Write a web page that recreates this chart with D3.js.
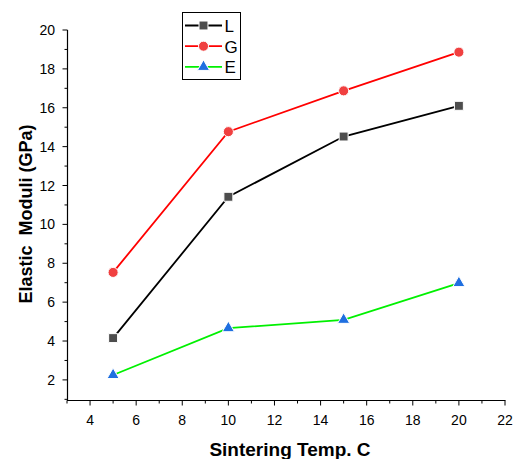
<!DOCTYPE html>
<html>
<head>
<meta charset="utf-8">
<script src="https://cdn.jsdelivr.net/npm/d3@7"></script>
<style>
body { margin: 0; background: #fff; }
text { font-family: Arial, "Liberation Sans", sans-serif; }
</style>
</head>
<body>
<svg id="chart" width="522" height="459"></svg>
<script>
// data
let temps = [5, 10, 15, 20];
let valL = [4.15, 11.42, 14.52, 16.1];
let valG = [7.53, 14.77, 16.87, 18.86];
let valE = [2.25, 4.66, 5.09, 6.98];
let xTicks = [4, 6, 8, 10, 12, 14, 16, 18, 20, 22];
let yTicks = [2, 4, 6, 8, 10, 12, 14, 16, 18, 20];

let series = [
    {name: "L", values: valL, line: "#000000", fill: "#4d4d4d", shape: d3.symbolSquare, size: 80},
    {name: "G", values: valG, line: "#ff0000", fill: "#f04040", shape: d3.symbolCircle, size: 80},
    {name: "E", values: valE, line: "#00f000", fill: "#1f6fe0", shape: d3.symbolTriangle, size: 64}
];

let svg = d3.select("#chart");

let xMap = d3.scaleLinear().domain([3, 22]).range([67, 505]);
let yMap = d3.scaleLinear().domain([0.94, 20]).range([400.5, 30]);

// x axis
let xAxis = svg.append("g").attr("transform", "translate(0,400.5)");
xAxis.append("line").attr("x1", 67).attr("x2", 505.5).attr("stroke", "#000").attr("stroke-width", 1.2);
xAxis.selectAll(".minor").data(d3.range(3, 23, 1).filter(v => v % 2 == 1))
    .enter().append("line")
    .attr("x1", d => xMap(d)).attr("x2", d => xMap(d))
    .attr("y1", 0).attr("y2", 3).attr("stroke", "#000");
xAxis.selectAll(".major").data(xTicks)
    .enter().append("line")
    .attr("x1", d => xMap(d)).attr("x2", d => xMap(d))
    .attr("y1", 0).attr("y2", 5).attr("stroke", "#000");
xAxis.selectAll("text").data(xTicks)
    .enter().append("text")
    .attr("x", d => xMap(d)).attr("y", 24.5)
    .attr("text-anchor", "middle").attr("font-size", 14)
    .text(d => d);

// y axis
let yAxis = svg.append("g").attr("transform", "translate(67.5,0)");
yAxis.append("line").attr("y1", 30).attr("y2", 401).attr("stroke", "#000").attr("stroke-width", 1.2);
yAxis.selectAll(".minor").data(d3.range(1, 20, 2))
    .enter().append("line")
    .attr("y1", d => yMap(d)).attr("y2", d => yMap(d))
    .attr("x1", 0).attr("x2", -3).attr("stroke", "#000");
yAxis.selectAll(".major").data(yTicks)
    .enter().append("line")
    .attr("y1", d => yMap(d)).attr("y2", d => yMap(d))
    .attr("x1", 0).attr("x2", -5).attr("stroke", "#000");
yAxis.selectAll("text").data(yTicks)
    .enter().append("text")
    .attr("x", -12.5).attr("y", d => yMap(d) + 5)
    .attr("text-anchor", "end").attr("font-size", 14)
    .text(d => d);

// axis titles
svg.append("text")
    .attr("x", 290).attr("y", 456)
    .attr("text-anchor", "middle").attr("font-size", 19).attr("font-weight", "bold")
    .text("Sintering Temp. C");
svg.append("text")
    .attr("transform", "translate(32,214) rotate(-90)")
    .attr("text-anchor", "middle").attr("font-size", 18).attr("font-weight", "bold")
    .style("white-space", "pre")
    .text("Elastic  Moduli (GPa)");

// lines + markers
let lineGen = d3.line().x(d => xMap(d[0])).y(d => yMap(d[1]));
series.forEach(s => {
    let pts = temps.map((t, i) => [t, s.values[i]]);
    svg.append("path")
        .attr("d", lineGen(pts))
        .attr("fill", "none")
        .attr("stroke", s.line)
        .attr("stroke-width", 1.8);
    svg.selectAll(null).data(pts).enter().append("path")
        .attr("d", d3.symbol().type(s.shape).size(s.size))
        .attr("transform", d => "translate(" + xMap(d[0]) + "," + yMap(d[1]) + ")")
        .attr("fill", s.fill)
        .attr("stroke", "#fff")
        .attr("stroke-width", 1);
});

// legend
let legend = svg.append("g");
legend.append("rect")
    .attr("x", 182.5).attr("y", 12.5).attr("width", 58).attr("height", 67)
    .attr("fill", "#fff").attr("stroke", "#000").attr("stroke-width", 1);
series.forEach((s, i) => {
    let ly = 25.5 + i * 20.7;
    legend.append("line")
        .attr("x1", 185).attr("x2", 222).attr("y1", ly).attr("y2", ly)
        .attr("stroke", s.line).attr("stroke-width", 1.8);
    legend.append("path")
        .attr("d", d3.symbol().type(s.shape).size(s.size))
        .attr("transform", "translate(203.5," + ly + ")")
        .attr("fill", s.fill).attr("stroke", "#fff").attr("stroke-width", 1);
    legend.append("text")
        .attr("x", 224.5).attr("y", ly + 6.3)
        .attr("font-size", 17)
        .text(s.name);
});
</script>
</body>
</html>
